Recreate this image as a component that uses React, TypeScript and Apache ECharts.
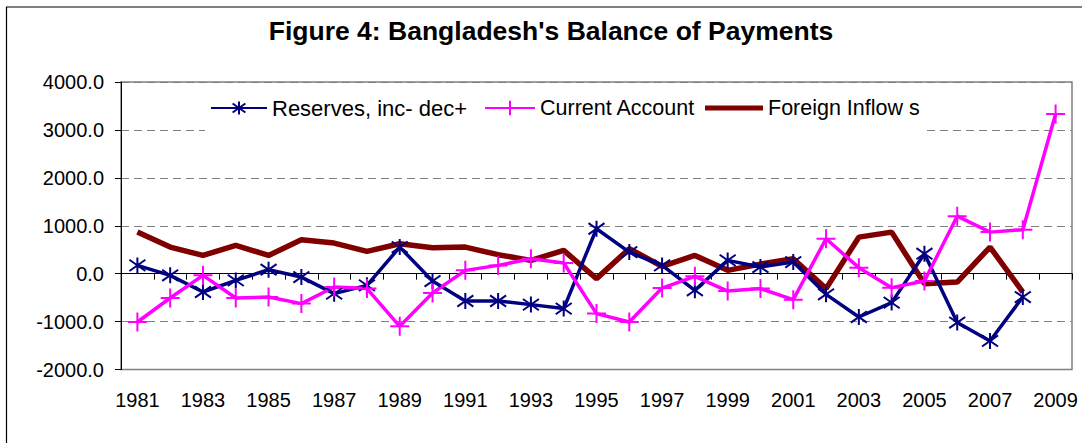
import React, { useEffect, useRef } from "react";
import * as echarts from "echarts";

const years = [
  "1981", "1982", "1983", "1984", "1985", "1986", "1987", "1988", "1989", "1990",
  "1991", "1992", "1993", "1994", "1995", "1996", "1997", "1998", "1999", "2000",
  "2001", "2002", "2003", "2004", "2005", "2006", "2007", "2008", "2009",
];

const reserves = [
  173, -35, -383, -140, 83, -71, -417, -244, 554, -154,
  -571, -571, -646, -729, 938, 450, 173, -348, 277, 138,
  242, -431, -904, -604, 417, -1021, -1404, -488, null,
];

const currentAccount = [
  -1008, -508, -35, -508, -488, -625, -279, -312, -1098, -404,
  69, 173, 312, 221, -833, -1008, -300, -56, -363, -312,
  -542, 729, 125, -292, -154, 1200, 867, 917, 3333,
];

const foreignInflows = [
  867, 554, 381, 590, 381, 708, 638, 465, 625, 542,
  554, 396, 277, 485, -104, 521, 152, 381, 69, 200,
  312, -312, 762, 867, -208, -175, 554, -383, null,
];

const seriesNames = ["Reserves, inc- dec+", "Current Account", "Foreign Inflow s"];
const yTicks = { min: -2000, max: 4000, interval: 1000 };

const FONT = "'Liberation Sans', Arial, sans-serif";
const STAR = "path://M0,-10L0,10M-9,-7L9,7M-9,7L9,-7";
const PLUS = "path://M0,-10L0,10M-10,0L10,0";
const BAR = "path://M0,0L58,0L58,5L0,5Z";

export default function App() {
  const ref = useRef<HTMLDivElement>(null);

  useEffect(() => {
    if (!ref.current) return;
    const chart = echarts.init(ref.current, null, { renderer: "svg" });
    const legendText = { fontSize: 21.5, color: "#000", fontFamily: FONT };
    chart.setOption({
      animation: false,
      backgroundColor: "#ffffff",
      textStyle: { fontFamily: FONT },
      graphic: [
        {
          type: "rect",
          shape: { x: 6.5, y: 7, width: 1200, height: 600 },
          style: { fill: "none", stroke: "#000", lineWidth: 1.2 },
          silent: true,
          z: 0,
        },
        {
          type: "rect",
          shape: { x: 205, y: 92, width: 722, height: 40 },
          style: { fill: "#ffffff" },
          silent: true,
          z: 2,
        },
        {
          type: "text",
          x: 551,
          y: 17,
          style: {
            text: "Figure 4: Bangladesh's Balance of Payments",
            fill: "#000",
            font: `bold 26.5px ${FONT}`,
            align: "center",
            verticalAlign: "top",
            textAlign: "center",
            textVerticalAlign: "top",
          },
          z: 5,
        },
      ],
      legend: [
        {
          left: 210,
          top: 97,
          padding: 0,
          itemWidth: 56,
          itemHeight: 16,
          textStyle: { ...legendText, fontSize: 22 },
          data: [seriesNames[0]],
          z: 10,
        },
        {
          left: 484,
          top: 97,
          padding: 0,
          itemWidth: 50,
          itemHeight: 18,
          textStyle: legendText,
          data: [seriesNames[1]],
          z: 10,
        },
        {
          left: 705,
          top: 97,
          padding: 0,
          itemWidth: 58,
          itemHeight: 5,
          textStyle: legendText,
          data: [{ name: seriesNames[2], icon: BAR }],
          z: 10,
        },
      ],
      grid: {
        left: 121,
        right: 10,
        top: 82,
        bottom: 73.5,
        show: true,
        borderColor: "#808080",
        borderWidth: 1.5,
        backgroundColor: "transparent",
      },
      xAxis: [
        {
          type: "category",
          data: years,
          boundaryGap: true,
          axisLine: { onZero: true, lineStyle: { color: "#000", width: 1 } },
          axisTick: { show: true, length: 6, interval: 0, lineStyle: { color: "#000" } },
          axisLabel: { show: false },
          splitLine: { show: false },
        },
        {
          type: "category",
          data: years,
          position: "bottom",
          boundaryGap: true,
          axisLine: { show: false, onZero: false },
          axisTick: { show: false },
          axisLabel: {
            interval: 1,
            fontSize: 20,
            color: "#000",
            margin: 20,
            fontFamily: FONT,
          },
          splitLine: { show: false },
        },
      ],
      yAxis: {
        type: "value",
        min: yTicks.min,
        max: yTicks.max,
        interval: yTicks.interval,
        axisLine: { show: true, lineStyle: { color: "#000", width: 1 } },
        axisTick: { show: true, length: 6, lineStyle: { color: "#000" } },
        axisLabel: {
          fontSize: 20,
          color: "#000",
          margin: 17,
          fontFamily: FONT,
          formatter: (v: number) => v.toFixed(1),
        },
        splitLine: {
          show: true,
          lineStyle: { color: "#808080", type: [8, 5], width: 1 },
        },
      },
      series: [
        {
          name: seriesNames[0],
          type: "line",
          data: reserves,
          xAxisIndex: 0,
          symbol: STAR,
          symbolSize: 16,
          lineStyle: { color: "#000080", width: 3.5 },
          itemStyle: { color: "#000080", borderColor: "#000080", borderWidth: 2 },
          z: 4,
        },
        {
          name: seriesNames[1],
          type: "line",
          data: currentAccount,
          xAxisIndex: 0,
          symbol: PLUS,
          symbolSize: 19,
          lineStyle: { color: "#FF00FF", width: 3.5 },
          itemStyle: { color: "#FF00FF", borderColor: "#FF00FF", borderWidth: 2 },
          z: 4,
        },
        {
          name: seriesNames[2],
          type: "line",
          data: foreignInflows,
          xAxisIndex: 0,
          symbol: "none",
          lineStyle: { color: "#800000", width: 5.5 },
          itemStyle: { color: "#800000" },
          z: 3,
        },
      ],
    });
    return () => chart.dispose();
  }, []);

  return (
    <div
      ref={ref}
      style={{ position: "absolute", left: 0, top: 0, width: 1082, height: 443 }}
    />
  );
}
